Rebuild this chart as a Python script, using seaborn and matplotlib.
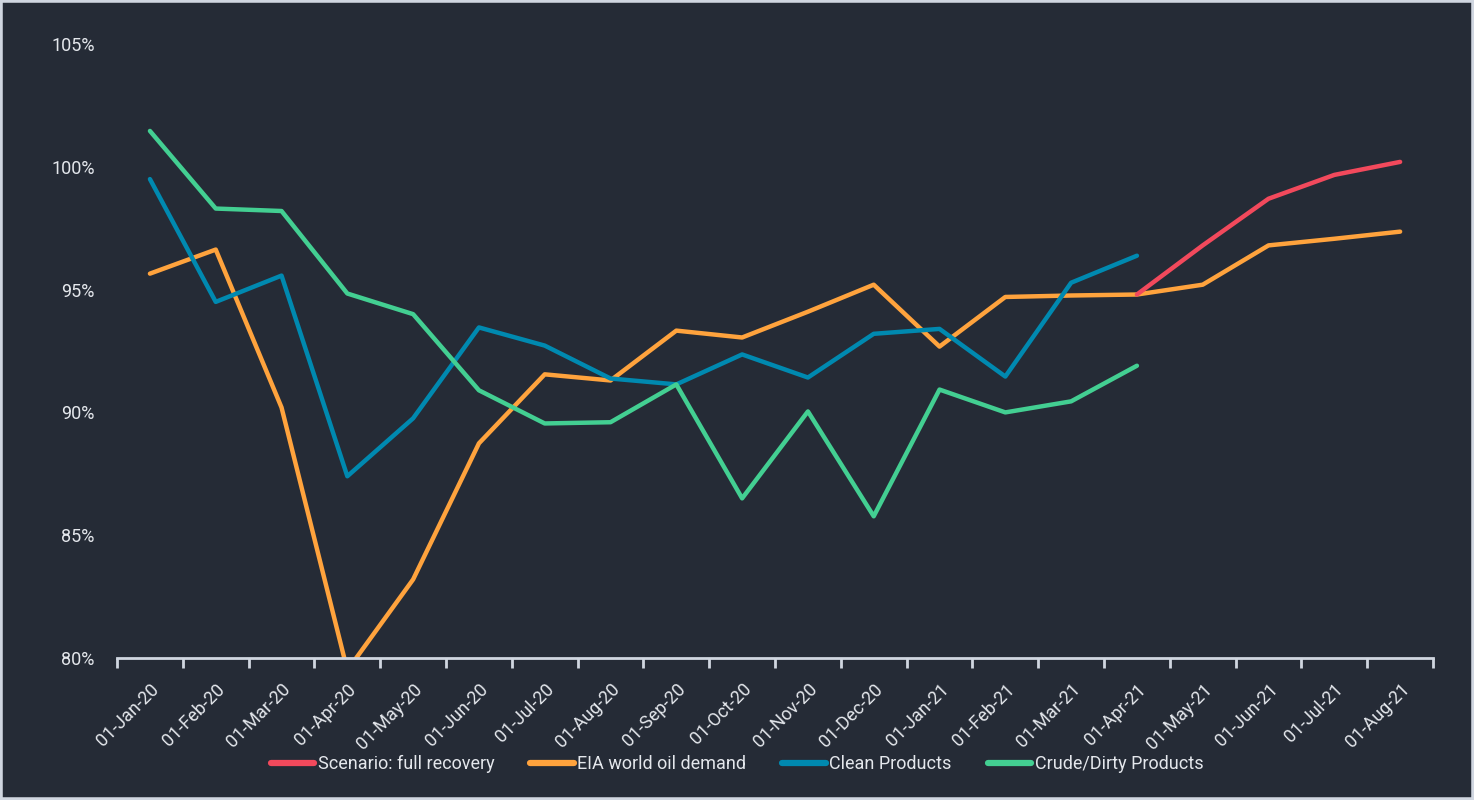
import numpy as np
import pandas as pd
import matplotlib.pyplot as plt
from matplotlib.patches import Rectangle
import seaborn as sns

# Chart data (percent of pre-covid level)
months = ['01-Jan-20', '01-Feb-20', '01-Mar-20', '01-Apr-20', '01-May-20', '01-Jun-20',
          '01-Jul-20', '01-Aug-20', '01-Sep-20', '01-Oct-20', '01-Nov-20', '01-Dec-20',
          '01-Jan-21', '01-Feb-21', '01-Mar-21', '01-Apr-21', '01-May-21', '01-Jun-21',
          '01-Jul-21', '01-Aug-21']

scenario = [94.8, 96.8, 98.7, 99.67, 100.2]  # Apr-21 .. Aug-21
eia_demand = [95.65, 96.63, 90.2, 79.5, 83.2, 88.74, 91.55, 91.3, 93.33, 93.05,
              94.1, 95.2, 92.68, 94.7, 94.76, 94.8, 95.2, 96.8, 97.07, 97.36]
clean = [99.5, 94.5, 95.57, 87.4, 89.76, 93.46, 92.72, 91.38, 91.14, 92.36,
         91.42, 93.2, 93.4, 91.46, 95.28, 96.38]
crude = [101.46, 98.3, 98.2, 94.84, 94.0, 90.9, 89.55, 89.6, 91.14, 86.5,
         90.04, 85.77, 90.93, 90.0, 90.45, 91.9]

bg = '#252b36'
fg = '#e4e7ec'
edge = '#d0d6e0'

sns.set_style('dark')
plt.rcParams['font.family'] = ['Roboto', 'DejaVu Sans']

fig = plt.figure(figsize=(14.74, 8), dpi=100, facecolor=bg)
ax = fig.add_axes([0.0794, 0.1775, 0.8928, 0.7675])
ax.set_facecolor(bg)

x_all = np.arange(len(months))
series = [
    ('EIA world oil demand', x_all, eia_demand, '#ffa33d'),
    ('Clean Products', x_all[:len(clean)], clean, '#0089b0'),
    ('Crude/Dirty Products', x_all[:len(crude)], crude, '#43cf92'),
    ('Scenario: full recovery', x_all[15:15 + len(scenario)], scenario, '#f2495c'),
]
for name, xs, ys, col in series:
    df = pd.DataFrame({'x': xs, 'y': ys})
    sns.lineplot(data=df, x='x', y='y', ax=ax, color=col, linewidth=3.2,
                 label=name, solid_capstyle='round', solid_joinstyle='round')

ax.set_xlim(-0.5, len(months) - 0.5)
ax.set_ylim(80, 105)
ax.set_yticks([80, 85, 90, 95, 100, 105])
ax.set_yticklabels([f'{v}%' for v in [80, 85, 90, 95, 100, 105]])
ax.set_xticks(x_all)
ax.set_xticklabels(months, rotation=45, ha='right', rotation_mode='anchor')
ax.set_xticks(np.arange(-0.5, len(months)), minor=True)
ax.tick_params(axis='x', which='major', bottom=True, length=0, pad=16, labelsize=13, labelcolor=fg)
ax.tick_params(axis='x', which='minor', bottom=True, length=7, width=2, color=edge, direction='out')
ax.tick_params(axis='y', length=0, pad=16, labelsize=13, labelcolor=fg)
ax.set_xlabel('')
ax.set_ylabel('')
ax.grid(False)
for s in ['top', 'right', 'left']:
    ax.spines[s].set_visible(False)
ax.spines['bottom'].set_color(edge)
ax.spines['bottom'].set_linewidth(2)

# legend in original order
handles, labels = ax.get_legend_handles_labels()
ax.get_legend().remove()
order = ['Scenario: full recovery', 'EIA world oil demand', 'Clean Products', 'Crude/Dirty Products']
hmap = dict(zip(labels, handles))
leg = fig.legend([hmap[k] for k in order], order, loc='center', bbox_to_anchor=(0.5, 0.045),
                 ncol=4, frameon=False, fontsize=13, handlelength=2.4, handletextpad=0.2,
                 columnspacing=2.0, labelcolor=fg)
for h in leg.legend_handles:
    h.set_linewidth(4.5)

# light frame around the figure
fig.patches.append(Rectangle((0, 0), 1, 1, transform=fig.transFigure, fill=False,
                             edgecolor=edge, linewidth=4, zorder=10))

fig.savefig('out.png', dpi=100, facecolor=bg)
